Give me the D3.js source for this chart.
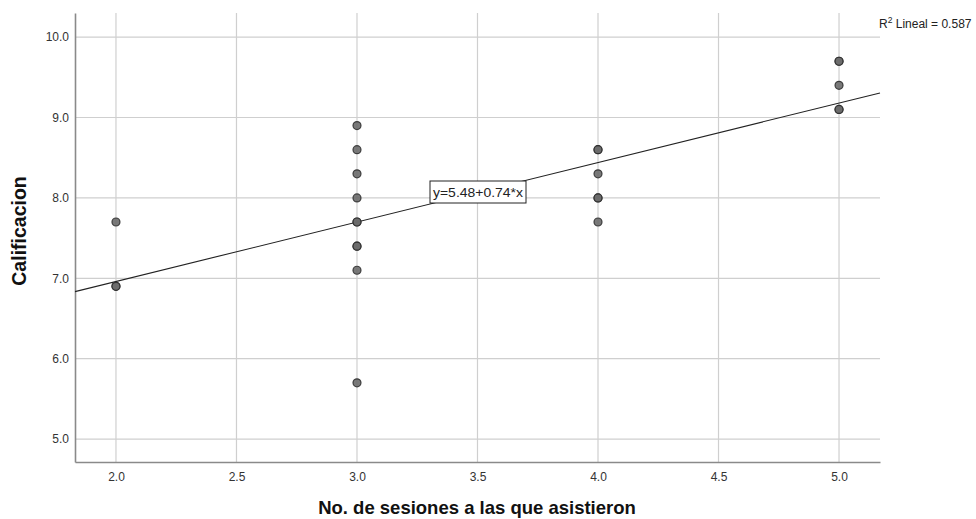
<!DOCTYPE html>
<html>
<head>
<meta charset="utf-8">
<script src="https://cdn.jsdelivr.net/npm/d3@7"></script>
<style>
  body { margin: 0; background: #fff; }
  svg { display: block; font-family: Arial, "Liberation Sans", sans-serif; }
</style>
</head>
<body>
<svg id="chart" width="976" height="519"></svg>
<script>
// sesiones asistidas vs calificacion (duplicates repeated)
var sesiones = [2, 2, 2,
  3, 3, 3, 3, 3, 3, 3, 3, 3, 3,
  4, 4, 4, 4, 4, 4,
  5, 5, 5, 5, 5];
var calificacion = [7.7, 6.9, 6.9,
  8.9, 8.6, 8.3, 8.0, 7.7, 7.7, 7.4, 7.4, 7.1, 5.7,
  8.6, 8.6, 8.3, 8.0, 8.0, 7.7,
  9.7, 9.7, 9.4, 9.1, 9.1];
var xTicks = [2.0, 2.5, 3.0, 3.5, 4.0, 4.5, 5.0];
var yTicks = [5.0, 6.0, 7.0, 8.0, 9.0, 10.0];
var intercept = 5.48, slope = 0.74, r2 = 0.587;

var svg = d3.select('#chart');
var plotL = 75, plotR = 880, plotT = 13, plotB = 462;

var x = d3.scaleLinear().domain([1.83, 5.17]).range([plotL, plotR]);
var y = d3.scaleLinear().domain([4.715, 10.3]).range([plotB, plotT]);

//grid
svg.append('g').selectAll('line')
  .data(xTicks).enter()
  .append('line')
  .attr('x1', function (d) { return x(d); })
  .attr('x2', function (d) { return x(d); })
  .attr('y1', plotT).attr('y2', plotB)
  .attr('stroke', '#cfcfcf').attr('stroke-width', 1.2);
svg.append('g').selectAll('line')
  .data(yTicks).enter()
  .append('line')
  .attr('y1', function (d) { return y(d); })
  .attr('y2', function (d) { return y(d); })
  .attr('x1', plotL).attr('x2', plotR)
  .attr('stroke', '#cfcfcf').attr('stroke-width', 1.2);

//axes
var xAxis = svg.append('g')
  .attr('transform', 'translate(0,' + plotB + ')')
  .call(d3.axisBottom(x).tickValues(xTicks).tickFormat(d3.format('.1f')).tickSize(0).tickPadding(10));
var yAxis = svg.append('g')
  .attr('transform', 'translate(' + plotL + ',0)')
  .call(d3.axisLeft(y).tickValues(yTicks).tickFormat(d3.format('.1f')).tickSize(0).tickPadding(6));
[xAxis, yAxis].forEach(function (a) {
  a.select('.domain').attr('stroke', '#8a8a8a').attr('stroke-width', 1.6);
  a.selectAll('text').attr('font-size', 12).attr('fill', '#333').attr('font-family', 'Arial, "Liberation Sans", sans-serif');
});

//fit line
svg.append('line')
  .attr('x1', x(1.83)).attr('y1', y(intercept + slope * 1.83))
  .attr('x2', x(5.17)).attr('y2', y(intercept + slope * 5.17))
  .attr('stroke', '#222').attr('stroke-width', 1.1);

//points
svg.append('g').selectAll('circle')
  .data(sesiones).enter()
  .append('circle')
  .attr('cx', function (d) { return x(d); })
  .attr('cy', function (d, i) { return y(calificacion[i]); })
  .attr('r', 4)
  .attr('fill', '#6a6a6a').attr('fill-opacity', 0.9)
  .attr('stroke', '#2a2a2a').attr('stroke-opacity', 0.85).attr('stroke-width', 1.2);

//equation label
var eq = svg.append('g').attr('transform', 'translate(478,192)');
eq.append('rect')
  .attr('x', -48).attr('y', -11).attr('width', 96).attr('height', 22)
  .attr('fill', '#fff').attr('stroke', '#222').attr('stroke-width', 1);
eq.append('text')
  .attr('text-anchor', 'middle').attr('dy', '0.36em')
  .attr('font-size', 13.5).attr('fill', '#222')
  .attr('textLength', 90).attr('lengthAdjust', 'spacingAndGlyphs')
  .text('y=' + intercept + '+' + slope + '*x');

//r2
var rt = svg.append('text')
  .attr('x', 879).attr('y', 28)
  .attr('font-size', 12).attr('fill', '#222');
rt.append('tspan').text('R');
rt.append('tspan').attr('font-size', 8.5).attr('dy', -5).text('2');
rt.append('tspan').attr('dy', 5).text(' Lineal = ' + r2);

//titles
svg.append('text')
  .attr('x', 477).attr('y', 514)
  .attr('text-anchor', 'middle')
  .attr('font-size', 18.5).attr('font-weight', 'bold').attr('fill', '#111')
  .text('No. de sesiones a las que asistieron');
svg.append('text')
  .attr('transform', 'translate(26,231) rotate(-90)')
  .attr('text-anchor', 'middle')
  .attr('font-size', 19.5).attr('font-weight', 'bold').attr('fill', '#111')
  .text('Calificacion');
</script>
</body>
</html>
